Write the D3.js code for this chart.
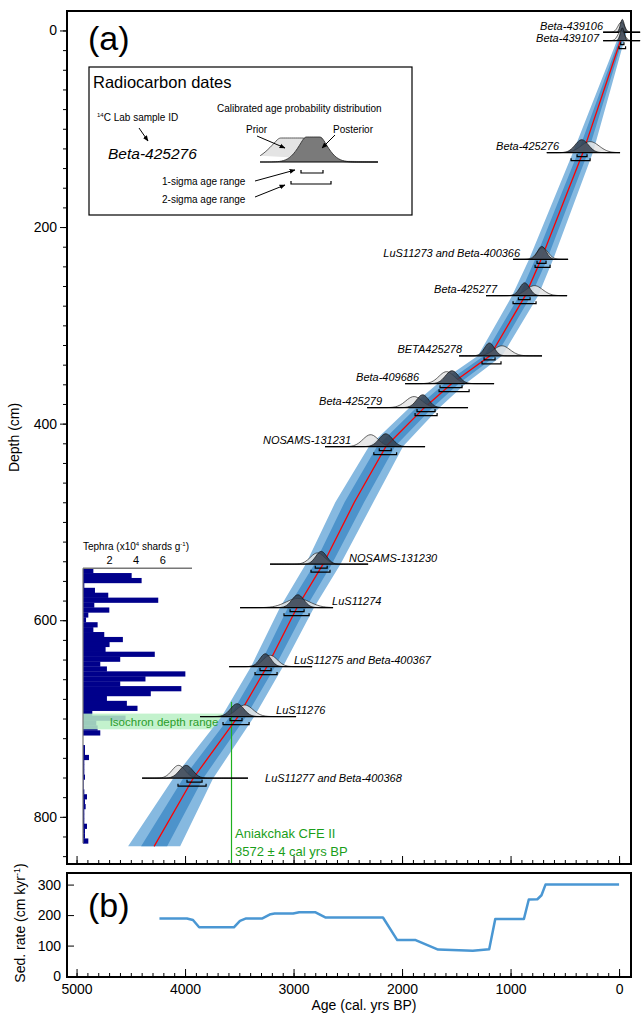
<!DOCTYPE html>
<html>
<head>
<meta charset="utf-8">
<script src="https://cdn.jsdelivr.net/npm/d3@7/dist/d3.min.js"></script>
<style>
  body { margin: 0; background: #fff; }
  svg { display: block; font-family: Arial, "Liberation Sans", sans-serif; }
</style>
</head>
<body>
<div id="chart"></div>
<script>

// ---- age-depth model (median and ranges, cal yrs BP) ----
var modelDepth = [0, 124, 233, 270, 331, 359, 384, 423, 480, 543, 587, 647, 698, 761, 830];
var modelAge   = [-45, 332, 719, 866, 1189, 1539, 1797, 2147, 2440, 2728, 2968, 3244, 3512, 3926, 4285];
var half95     = [28, 92, 111, 120, 111, 129, 138, 157, 175, 160, 157, 147, 150, 184, 240];
var half68     = [14, 46, 55, 55, 55, 65, 74, 83, 90, 80, 83, 74, 74, 92, 120];

// ---- radiocarbon dates ----
var dateLabels = ["Beta-439106", "Beta-439107", "Beta-425276", "LuS11273 and Beta-400366",
  "Beta-425277", "BETA425278", "Beta-409686", "Beta-425279", "NOSAMS-131231",
  "NOSAMS-131230", "LuS11274", "LuS11275 and Beta-400367", "LuS11276", "LuS11277 and Beta-400368"];
var dateDepth = [1.8, 10.4, 124.3, 232.8, 269.8, 331, 359.3, 383.7, 423.4, 543, 587.2, 647.2, 698, 760.7];
var priorAge  = [-20, -20, 267, 705, 780, 1080, 1590, 1890, 2290, 2780, 2960, 3215, 3450, 4060];
var priorSd   = [30, 30, 83, 50, 75, 75, 70, 75, 70, 65, 110, 65, 75, 60];
var postAge   = [-30, -30, 344, 712, 870, 1195, 1540, 1810, 2150, 2745, 2960, 3260, 3520, 3990];
var postSd    = [18, 18, 60, 40, 45, 45, 60, 55, 60, 50, 55, 50, 60, 60];
var sig1Lo    = [-45, -45, 295, 673, 820, 1143, 1447, 1696, 2100, 2690, 2903, 3207, 3475, 3843];
var sig1Hi    = [-15, -15, 387, 756, 928, 1244, 1650, 1862, 2210, 2800, 3032, 3309, 3585, 3982];
var sig2Lo    = [-60, -60, 267, 636, 765, 1088, 1382, 1677, 2050, 2664, 2857, 3152, 3410, 3806];
var sig2Hi    = [0, 0, 442, 774, 977, 1263, 1659, 1880, 2260, 2839, 3088, 3355, 3650, 4065];
var rangeFrom = [147, 147, 666, 977, 1226, 1475, 1972, 2322, 2710, 3217, 3493, 3594, 3862, 4396];
var rangeTo   = [-194, -194, -9, 470, 479, 710, 1152, 1392, 1788, 2313, 2636, 2829, 2977, 3420];
var labelAge  = [147, 184, 553, 912, 1124, 1447, 1843, 2184, 2470, 2488, 2645, 2995, 3161, 3263];

// ---- tephra shard counts (x10^4 shards/g), 5 cm bins from 547 cm ----
var tephraTop = 547;
var tephraStep = 5;
var tephraValue = [0.78, 3.66, 4.41, 0.1, 0.9, 1.9, 5.66, 0.85, 1.98, 0.4, 0.23, 1.1, 0.78, 1.6,
  3.0, 2.0, 1.7, 5.4, 2.8, 1.3, 1.8, 7.7, 4.7, 2.8, 7.4, 5.1, 1.8, 3.3, 4.1, 0.7, 3.2,
  1.0, 1.1, 1.3, 0.0, 0.0, 0.15, 0.15, 0.45, 0.1, 0.1, 0.1, 0.15, 0.05, 0.05, 0.1, 0.3,
  0.15, 0.2, 0.1, 0.1, 0.1, 0.3, 0.15, 0.15, 0.4];
var isochronDepth = [695, 711];
var cfeAge = 3572;

// ---- sedimentation rate (cm/kyr) ----
var sedAge  = [4236, 3983, 3927, 3870, 3550, 3494, 3437, 3287, 3212, 3174, 3004, 2948, 2797, 2703,
  2176, 2044, 1875, 1668, 1348, 1197, 1141, 877, 832, 753, 715, 678, 0];
var sedRate = [189, 189, 184, 160, 160, 181, 189, 189, 203, 205, 205, 209, 209, 192,
  192, 118, 118, 87, 83, 88, 187, 187, 251, 252, 265, 300, 300];

// ---- ticks ----
var ageTicks = [5000, 4000, 3000, 2000, 1000, 0];
var depthTicks = [0, 200, 400, 600, 800];
var rateTicks = [0, 100, 200, 300];
var tephraTicks = [2, 4, 6];

var width = 641, height = 1014;
var panelA = {left: 67, right: 631, top: 11, bottom: 864};
var panelB = {left: 67, right: 631, top: 873, bottom: 977};

var x = d3.scaleLinear().domain([5088, -110]).range([panelA.left, panelA.right]);
var yA = d3.scaleLinear().domain([-19.8, 848]).range([panelA.top, panelA.bottom]);
var yB = d3.scaleLinear().domain([-3, 338]).range([panelB.bottom, panelB.top]);
var xT = d3.scaleLinear().domain([0, 8.2]).range([83, 192]);

var svg = d3.select("#chart").append("svg")
    .attr("width", width)
    .attr("height", height);

svg.append("defs").append("clipPath").attr("id", "clipA")
  .append("rect")
    .attr("x", panelA.left).attr("y", panelA.top)
    .attr("width", panelA.right - panelA.left)
    .attr("height", panelA.bottom - panelA.top);

svg.select("defs").append("marker")
    .attr("id", "arrow")
    .attr("viewBox", "0 0 10 10")
    .attr("refX", 9).attr("refY", 5)
    .attr("markerWidth", 6).attr("markerHeight", 6)
    .attr("orient", "auto")
  .append("path")
    .attr("d", "M0,1 L10,5 L0,9 z")
    .attr("fill", "#000");

var model = modelDepth.map(function(d, i) {
  return {depth: d, age: modelAge[i], h95: half95[i], h68: half68[i]};
});

// ===== panel (a) =====
var gA = svg.append("g").attr("clip-path", "url(#clipA)");

// tephra bars
var tephra = tephraValue.map(function(v, i) {
  return {top: tephraTop + i * tephraStep, value: v};
});
gA.selectAll(".tephra")
  .data(tephra)
  .enter().append("rect")
    .attr("class", "tephra")
    .attr("x", xT(0))
    .attr("y", function(d) { return yA(d.top); })
    .attr("width", function(d) { return xT(d.value) - xT(0); })
    .attr("height", yA(tephraStep) - yA(0) + 0.3)
    .attr("fill", "#00008b");

// isochron band
gA.append("rect")
    .attr("x", xT(0))
    .attr("y", yA(isochronDepth[0]))
    .attr("width", x(cfeAge) - xT(0))
    .attr("height", yA(isochronDepth[1]) - yA(isochronDepth[0]))
    .attr("fill", "#b8f0c4")
    .attr("opacity", 0.85);

// model envelopes
var area95 = d3.area()
    .y(function(d) { return yA(d.depth); })
    .x0(function(d) { return x(d.age + d.h95); })
    .x1(function(d) { return x(d.age - d.h95); });
var area68 = d3.area()
    .y(function(d) { return yA(d.depth); })
    .x0(function(d) { return x(d.age + d.h68); })
    .x1(function(d) { return x(d.age - d.h68); });

gA.append("path").datum(model).attr("d", area95).attr("fill", "#86b9e0");
gA.append("path").datum(model).attr("d", area68).attr("fill", "#4d93cb");

// Aniakchak line
var cfeX = Math.round(x(cfeAge)) + 0.5;
gA.append("line")
    .attr("x1", cfeX).attr("x2", cfeX)
    .attr("y1", yA(683)).attr("y2", panelA.bottom)
    .attr("stroke", "#1fb01f")
    .attr("stroke-width", 1.2);

gA.append("text")
    .attr("x", 164)
    .attr("y", yA(isochronDepth[1]) - 3)
    .attr("text-anchor", "middle")
    .attr("font-size", 11.5)
    .attr("fill", "#2a9d2a")
    .text("Isochron depth range");

// date distributions
function bump(mean, sd, from, to, h, base) {
  var pts = [];
  var n = 60;
  for (var k = 0; k <= n; k++) {
    var a = from + (to - from) * k / n;
    var z = (a - mean) / sd;
    pts.push([x(a), base - h * Math.exp(-0.5 * z * z)]);
  }
  return pts;
}
var bumpLine = d3.line().curve(d3.curveBasis);

var dates = dateLabels.map(function(l, i) {
  return {label: l, depth: dateDepth[i], prior: priorAge[i], priorSd: priorSd[i],
    post: postAge[i], postSd: postSd[i], s1: [sig1Lo[i], sig1Hi[i]], s2: [sig2Lo[i], sig2Hi[i]],
    from: rangeFrom[i], to: rangeTo[i], labelAge: labelAge[i]};
});

var gD = svg.append("g");
dates.forEach(function(d, i) {
  var base = yA(d.depth);
  var hPost = 13;
  var hPrior = 13 * Math.sqrt(Math.min(1, d.postSd / d.priorSd));
  gD.append("path")
      .attr("d", bumpLine(bump(d.prior, d.priorSd, d.from, d.to, hPrior, base)))
      .attr("fill", "#e4e4e4").attr("fill-opacity", 0.85)
      .attr("stroke", "#222").attr("stroke-width", 0.7);
  gD.append("path")
      .attr("d", bumpLine(bump(d.post, d.postSd, d.from, d.to, hPost, base)))
      .attr("fill", "#34404f").attr("fill-opacity", 0.85)
      .attr("stroke", "#111").attr("stroke-width", 0.7);
  gD.append("line")
      .attr("x1", x(d.from)).attr("x2", x(d.to))
      .attr("y1", base).attr("y2", base)
      .attr("stroke", "#000").attr("stroke-width", 1.3);
  [[d.s1, 4], [d.s2, 8]].forEach(function(b) {
    var yb = base + b[1];
    gD.append("path")
        .attr("d", "M" + x(b[0][0]) + "," + (yb - 2.5) + "V" + yb + "H" + x(b[0][1]) + "V" + (yb - 2.5))
        .attr("fill", "none")
        .attr("stroke", "#000").attr("stroke-width", 1.2);
  });
});

// median line on top
gA.append("path").datum(model)
    .attr("d", d3.line().x(function(d) { return x(d.age); }).y(function(d) { return yA(d.depth); }))
    .attr("fill", "none")
    .attr("stroke", "#ff0000")
    .attr("stroke-width", 1.3);

// labels
var prevY = -100;
dates.forEach(function(d, i) {
  var right = d.depth > 500;
  var ly = yA(d.depth) - 2.5;
  // label past the end of its line sits on the line
  if (right && x(d.labelAge) > x(d.to)) ly = yA(d.depth) + 4;
  if (ly < prevY + 12) ly = prevY + 12;
  prevY = ly;
  gD.append("text")
      .attr("x", x(d.labelAge))
      .attr("y", ly)
      .attr("text-anchor", right ? "start" : "end")
      .attr("font-size", 11)
      .attr("font-style", "italic")
      .text(d.label);
});

// tephra axis
var gT = svg.append("g");
gT.append("line")
    .attr("x1", xT(0)).attr("x2", xT(8.2))
    .attr("y1", yA(tephraTop)).attr("y2", yA(tephraTop))
    .attr("stroke", "#777").attr("stroke-width", 1.5);
gT.append("line")
    .attr("x1", xT(0)).attr("x2", xT(0))
    .attr("y1", yA(tephraTop)).attr("y2", yA(tephraTop + tephraStep * tephraValue.length))
    .attr("stroke", "#777").attr("stroke-width", 1.2);
gT.selectAll(".tt").data(tephraTicks).enter().append("text")
    .attr("x", function(d) { return xT(d); })
    .attr("y", yA(tephraTop) - 4)
    .attr("text-anchor", "middle")
    .attr("font-size", 11)
    .text(function(d) { return d; });
var tt = gT.append("text")
    .attr("x", xT(0))
    .attr("y", yA(tephraTop) - 18)
    .attr("font-size", 10);
tt.append("tspan").text("Tephra (x10");
tt.append("tspan").attr("dy", -4).attr("font-size", 6).text("4");
tt.append("tspan").attr("dy", 4).text(" shards g");
tt.append("tspan").attr("dy", -4).attr("font-size", 6).text("-1");
tt.append("tspan").attr("dy", 4).text(")");

// Aniakchak text
svg.append("text").attr("x", cfeX + 3.5).attr("y", 838)
    .attr("font-size", 13).attr("fill", "#1a9e1a").text("Aniakchak CFE II");
svg.append("text").attr("x", cfeX + 3.5).attr("y", 856)
    .attr("font-size", 13).attr("fill", "#1a9e1a").text("3572 \u00b1 4 cal yrs BP");

// axes of panel (a)
svg.append("g")
    .attr("transform", "translate(" + panelA.left + ",0)")
    .call(d3.axisLeft(yA).tickValues(d3.range(0, 841, 20)).tickSize(4).tickFormat(""))
    .call(function(g) { g.select(".domain").remove(); });
svg.append("g")
    .attr("transform", "translate(" + panelA.left + ",0)")
    .call(d3.axisLeft(yA).tickValues(depthTicks).tickSize(7).tickPadding(3).tickFormat(d3.format("d")))
    .call(function(g) {
      g.select(".domain").remove();
      g.selectAll("text").attr("font-size", 14).attr("font-family", null);
    });
svg.append("g")
    .attr("transform", "translate(0," + panelA.bottom + ")")
    .call(d3.axisBottom(x).tickValues(d3.range(0, 5001, 100)).tickSize(-4).tickFormat(""))
    .call(function(g) { g.select(".domain").remove(); });
svg.append("g")
    .attr("transform", "translate(0," + panelA.bottom + ")")
    .call(d3.axisBottom(x).tickValues(ageTicks).tickSize(-8).tickFormat(""))
    .call(function(g) { g.select(".domain").remove(); });

svg.append("rect")
    .attr("x", panelA.left).attr("y", panelA.top)
    .attr("width", panelA.right - panelA.left)
    .attr("height", panelA.bottom - panelA.top)
    .attr("fill", "none").attr("stroke", "#000").attr("stroke-width", 2);

svg.append("text").attr("x", 88).attr("y", 50).attr("font-size", 34).text("(a)");

svg.append("text")
    .attr("transform", "translate(19," + ((panelA.top + panelA.bottom) / 2) + ") rotate(-90)")
    .attr("text-anchor", "middle")
    .attr("font-size", 14)
    .text("Depth (cm)");

// legend box
var lg = svg.append("g");
lg.append("rect").attr("x", 89).attr("y", 67).attr("width", 323).attr("height", 148)
    .attr("fill", "#fff").attr("stroke", "#000").attr("stroke-width", 1.2);
lg.append("text").attr("x", 93).attr("y", 88).attr("font-size", 16.5).text("Radiocarbon dates");
var lid = lg.append("text").attr("x", 97).attr("y", 121).attr("font-size", 10);
lid.append("tspan").attr("font-size", 6).attr("dy", -4).text("14");
lid.append("tspan").attr("dy", 4).text("C Lab sample ID");
lg.append("line").attr("x1", 139).attr("y1", 128).attr("x2", 148).attr("y2", 141)
    .attr("stroke", "#000").attr("marker-end", "url(#arrow)");
lg.append("text").attr("x", 108).attr("y", 159).attr("font-size", 15.5)
    .attr("font-style", "italic").text("Beta-425276");
lg.append("text").attr("x", 217).attr("y", 112).attr("font-size", 10)
    .text("Calibrated age probability distribution");
lg.append("text").attr("x", 246).attr("y", 133).attr("font-size", 10).text("Prior");
lg.append("text").attr("x", 333).attr("y", 133).attr("font-size", 10).text("Posterior");

var lx = d3.scaleLinear().domain([0, 100]).range([260, 378]);
var legendPrior = {mean: 27, sd: 15};
var legendPost = {mean: 45, sd: 10};
function legendBump(p, h) {
  var pts = [];
  for (var k = 0; k <= 60; k++) {
    var a = k * 100 / 60;
    var z = (a - p.mean) / p.sd;
    var v = Math.min(1, 1.3 * Math.exp(-0.5 * z * z));
    pts.push([lx(a), 162 - h * v]);
  }
  return pts;
}
lg.append("path").attr("d", bumpLine(legendBump(legendPrior, 24)))
    .attr("fill", "#e4e4e4").attr("stroke", "#333").attr("stroke-width", 0.8);
lg.append("path").attr("d", bumpLine(legendBump(legendPost, 25)))
    .attr("fill", "#7a7a7a").attr("stroke", "#222").attr("stroke-width", 0.8);
lg.append("line").attr("x1", lx(0)).attr("x2", lx(100)).attr("y1", 162).attr("y2", 162)
    .attr("stroke", "#000").attr("stroke-width", 1.2);
lg.append("path").attr("d", "M301,170V173H323V170").attr("fill", "none").attr("stroke", "#000").attr("stroke-width", 1.2);
lg.append("path").attr("d", "M291,181V184H331V181").attr("fill", "none").attr("stroke", "#000").attr("stroke-width", 1.2);
lg.append("text").attr("x", 162).attr("y", 185).attr("font-size", 10).text("1-sigma age range");
lg.append("text").attr("x", 162).attr("y", 203).attr("font-size", 10).text("2-sigma age range");
[[257, 136, 285, 148], [335, 135, 322, 148], [255, 181, 295, 170], [255, 197, 285, 185]].forEach(function(a) {
  lg.append("line").attr("x1", a[0]).attr("y1", a[1]).attr("x2", a[2]).attr("y2", a[3])
      .attr("stroke", "#000").attr("marker-end", "url(#arrow)");
});

// ===== panel (b) =====
svg.append("path").datum(sedAge.map(function(a, i) { return [a, sedRate[i]]; }))
    .attr("d", d3.line().x(function(d) { return x(d[0]); }).y(function(d) { return yB(d[1]); }))
    .attr("fill", "none")
    .attr("stroke", "#4a97d3")
    .attr("stroke-width", 2.5)
    .attr("stroke-linejoin", "round");

svg.append("g")
    .attr("transform", "translate(0," + panelB.bottom + ")")
    .call(d3.axisBottom(x).tickValues(d3.range(0, 5001, 100)).tickSize(-4).tickFormat(""))
    .call(function(g) { g.select(".domain").remove(); });
svg.append("g")
    .attr("transform", "translate(0," + panelB.bottom + ")")
    .call(d3.axisBottom(x).tickValues(ageTicks).tickSize(-8).tickPadding(7).tickFormat(d3.format("d")))
    .call(function(g) {
      g.select(".domain").remove();
      g.selectAll("text").attr("font-size", 14).attr("font-family", null);
    });
svg.append("g")
    .attr("transform", "translate(" + panelB.left + ",0)")
    .call(d3.axisLeft(yB).tickValues(rateTicks).tickSize(-7).tickPadding(6).tickFormat(d3.format("d")))
    .call(function(g) {
      g.select(".domain").remove();
      g.selectAll("text").attr("font-size", 14).attr("font-family", null);
    });

svg.append("rect")
    .attr("x", panelB.left).attr("y", panelB.top)
    .attr("width", panelB.right - panelB.left)
    .attr("height", panelB.bottom - panelB.top)
    .attr("fill", "none").attr("stroke", "#000").attr("stroke-width", 2);

svg.append("text").attr("x", 88).attr("y", 917).attr("font-size", 34).text("(b)");

var sl = svg.append("text")
    .attr("transform", "translate(25," + ((panelB.top + panelB.bottom) / 2 - 2) + ") rotate(-90)")
    .attr("text-anchor", "middle")
    .attr("font-size", 14);
sl.append("tspan").text("Sed. rate (cm kyr");
sl.append("tspan").attr("dy", -5).attr("font-size", 9).text("-1");
sl.append("tspan").attr("dy", 5).text(")");

svg.append("text")
    .attr("x", (panelB.left + panelB.right) / 2 + 15)
    .attr("y", 1010)
    .attr("text-anchor", "middle")
    .attr("font-size", 14)
    .text("Age (cal. yrs BP)");

</script>
</body>
</html>
